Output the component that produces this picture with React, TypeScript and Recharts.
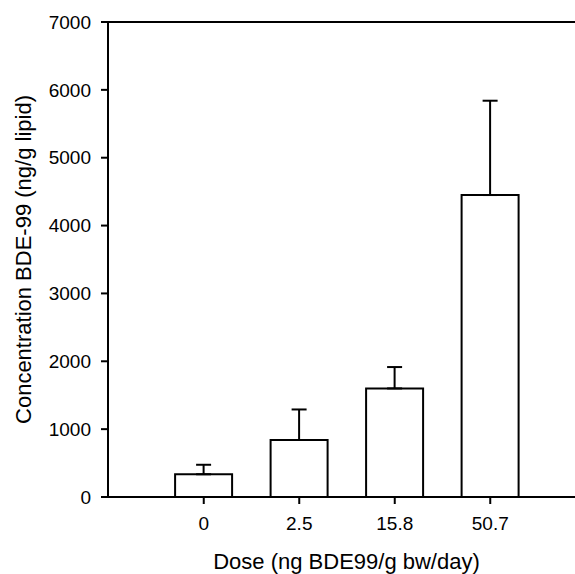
import React from 'react';
import { BarChart, Bar, XAxis, YAxis, ErrorBar, ReferenceLine } from 'recharts';

const doses = ['0', '2.5', '15.8', '50.7'];
const meanConc = [335, 840, 1600, 4450];
const semConc = [140, 450, 315, 1390];
const yTicks = [0, 1000, 2000, 3000, 4000, 5000, 6000, 7000];

const data = doses.map((d, i) => ({
  dose: d,
  conc: meanConc[i],
  err: [0, semConc[i]],
}));

const FONT = '"Liberation Sans", Arial, sans-serif';

export default function App() {
  return (
    <div
      style={{
        position: 'absolute',
        left: 0,
        top: 0,
        width: 575,
        height: 574,
        overflow: 'hidden',
        background: '#fff',
      }}
    >
      <BarChart
        width={585}
        height={574}
        data={data}
        margin={{ top: 22, right: 0, bottom: 0, left: 0 }}
        barCategoryGap="20%"
      >
        <XAxis
          dataKey="dose"
          height={77}
          padding={{ left: 48, right: 47 }}
          axisLine={{ stroke: '#000', strokeWidth: 2 }}
          tickLine={{ stroke: '#000', strokeWidth: 2 }}
          tickSize={7}
          tickMargin={13}
          tick={{ fill: '#000', fontSize: 19, fontFamily: FONT }}
          label={{
            value: 'Dose (ng BDE99/g bw/day)',
            position: 'insideBottom',
            offset: 5,
            style: { fill: '#000', fontSize: 22, fontFamily: FONT },
          }}
        />
        <YAxis
          width={108}
          domain={[0, 7000]}
          ticks={yTicks}
          interval={0}
          axisLine={{ stroke: '#000', strokeWidth: 2 }}
          tickLine={{ stroke: '#000', strokeWidth: 2 }}
          tickSize={7}
          tickMargin={10}
          tick={{ fill: '#000', fontSize: 19, fontFamily: FONT }}
          label={{
            value: 'Concentration BDE-99 (ng/g lipid)',
            angle: -90,
            position: 'insideLeft',
            offset: 23,
            style: { fill: '#000', fontSize: 22, fontFamily: FONT, textAnchor: 'middle' },
          }}
        />
        <ReferenceLine y={7000} stroke="#000" strokeWidth={2} />
        <Bar
          dataKey="conc"
          fill="#fff"
          stroke="#000"
          strokeWidth={2}
          isAnimationActive={false}
        >
          <ErrorBar
            dataKey="err"
            direction="y"
            width={7.5}
            stroke="#000"
            strokeWidth={2}
            isAnimationActive={false}
          />
        </Bar>
      </BarChart>
    </div>
  );
}
